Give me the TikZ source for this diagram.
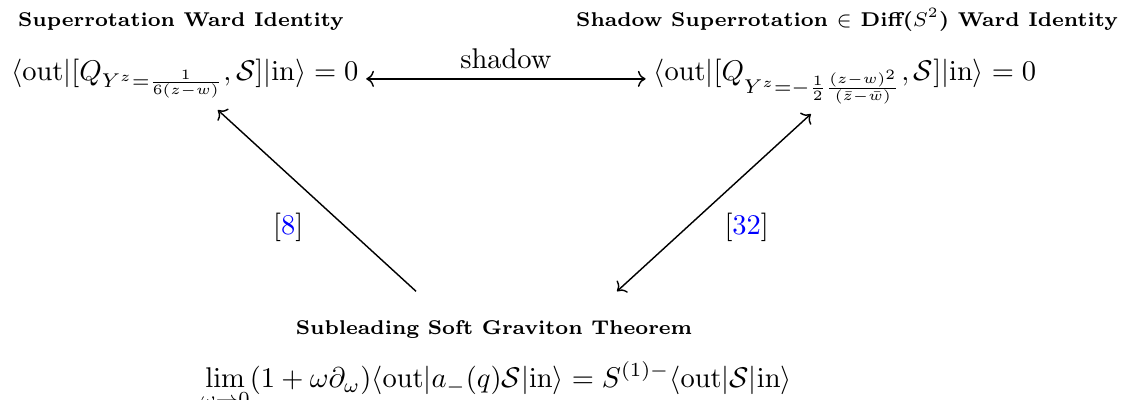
\documentclass[tikz,border=0pt]{standalone}
\usepackage{amsmath}
\usepackage{tikz}
\usetikzlibrary{positioning, arrows.meta}

\newcommand{\bra}{\langle\mathrm{out}|}
\newcommand{\ket}{|\mathrm{in}\rangle}

\begin{document}
\begin{tikzpicture}[
        >={Computer Modern Rightarrow},
        line width=0.5pt,
        title/.style={font=\scriptsize\bfseries, inner sep=0pt, anchor=base},
        eqn/.style={inner ysep=0pt, inner xsep=2.5pt, anchor=base},
        ref/.style={inner sep=0pt}
    ]
    \useasboundingbox (0,0) rectangle (13.826,4.933);

    % --- Oben: Ward-Identitaeten ---
    \node[title] (superT) at (2.232,4.61) {Superrotation Ward Identity};
    \node[eqn] (super) at (2.28,3.946) {$\bra[Q_{Y^z=\frac{1}{6(z-w)}},\mathcal{S}]\ket=0$};

    \node[title] (shadowT) at (10.447,4.61) {Shadow Superrotation $\in$ Diff($S^2$) Ward Identity};
    \node[eqn] (shadow) at (10.42,3.946) {$\bra[Q_{Y^z=-\frac{1}{2}\frac{(z-w)^2}{(\bar{z}-\bar{w})}},\mathcal{S}]\ket=0$};

    % --- Unten: Soft-Theorem ---
    \node[title] (softT) at (6.093,0.81) {Subleading Soft Graviton Theorem};
    \node[eqn] (soft) at (6.12,0.15) {$\displaystyle\lim_{\omega\to0}(1+\omega\partial_\omega)\bra a_-(q)\mathcal{S}\ket=S^{(1)-}\bra\mathcal{S}\ket$};

    % --- Pfeile ---
    \draw[<->] ([yshift=0.4pt]super.base east) -- node[above] {shadow} ([yshift=0.4pt]shadow.base west);
    \draw[->] ([shift={(-0.962,0.530)}]softT.base) -- node[ref, pos=0.35, left=15pt] {[\textcolor{blue}{8}]} ([shift={(0.407,-0.370)}]super.base);
    \draw[<->] ([shift={(1.517,0.530)}]softT.base) -- node[ref, pos=0.36, right=13pt] {[\textcolor{blue}{32}]} ([shift={(-0.419,-0.419)}]shadow.base);

\end{tikzpicture}
\end{document}
